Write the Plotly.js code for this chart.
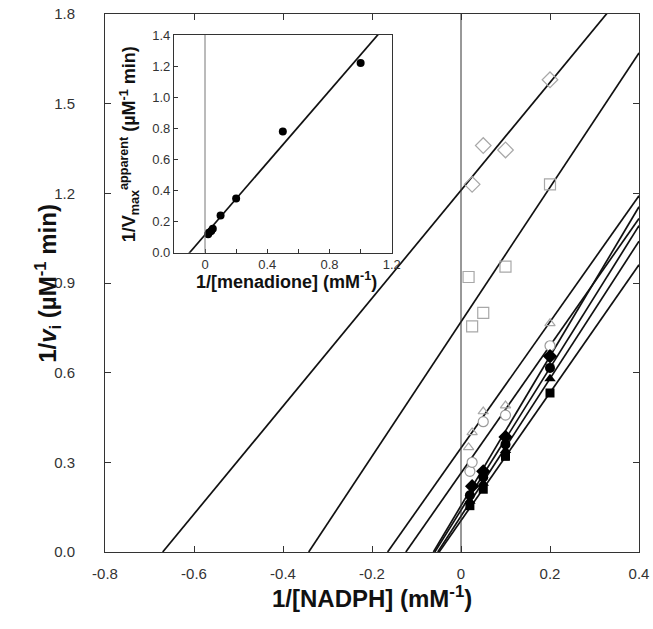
<!DOCTYPE html>
<html>
<head>
<meta charset="utf-8">
<script src="https://cdn.plot.ly/plotly-3.0.1.min.js"></script>
<style>html,body{margin:0;padding:0;background:#fff;}#chart{width:653px;height:629px;}</style>
</head>
<body>
<div id="chart"></div>
<script>
// ---- Main plot data: 1/[NADPH] (mM^-1) vs 1/v_i ----
const odX = [0.025, 0.05, 0.1, 0.2];
const odY = [1.23, 1.36, 1.345, 1.58];
const osX = [0.017, 0.025, 0.05, 0.1, 0.2];
const osY = [0.92, 0.755, 0.80, 0.955, 1.23];
const otX = [0.017, 0.025, 0.05, 0.1, 0.2];
const otY = [0.35, 0.40, 0.47, 0.49, 0.765];
const ocX = [0.02, 0.025, 0.05, 0.1, 0.2];
const ocY = [0.27, 0.30, 0.436, 0.458, 0.69];
const fdX = [0.025, 0.05, 0.1, 0.2];
const fdY = [0.22, 0.27, 0.385, 0.655];
const fcX = [0.02, 0.05, 0.1, 0.2];
const fcY = [0.19, 0.25, 0.36, 0.616];
const ftX = [0.02, 0.05, 0.1, 0.2];
const ftY = [0.17, 0.23, 0.34, 0.58];
const fsX = [0.02, 0.05, 0.1, 0.2];
const fsY = [0.155, 0.21, 0.32, 0.532];

// fitted lines (intercept, slope) for each series
const fitIntercepts = [1.21, 0.77, 0.348, 0.264, 0.155, 0.14, 0.12, 0.105];
const fitSlopes     = [1.805, 2.25, 2.11, 2.13, 2.5, 2.38, 2.3, 2.14];

// ---- Inset data: 1/[menadione] vs 1/Vmax apparent ----
const menX = [0.02, 0.025, 0.04, 0.05, 0.1, 0.2, 0.5, 1.0];
const vmaxY = [0.12, 0.13, 0.14, 0.155, 0.24, 0.35, 0.78, 1.22];
const insetIntercept = 0.116;
const insetSlope = 1.157;

const xTicks = [-0.8, -0.6, -0.4, -0.2, 0, 0.2, 0.4];
const xTickText = ['-0.8', '-0.6', '-0.4', '-0.2', '0', '0.2', '0.4'];
const yTicks = [0, 0.3, 0.6, 0.9, 1.2, 1.5, 1.8];
const yTickText = ['0.0', '0.3', '0.6', '0.9', '1.2', '1.5', '1.8'];
const insXTicks = [0, 0.2, 0.4, 0.6, 0.8, 1.0, 1.2];
const insXTickText = ['0', '', '0.4', '', '0.8', '', '1.2'];
const insYTicks = [0, 0.2, 0.4, 0.6, 0.8, 1.0, 1.2, 1.4];
const insYTickText = ['0.0', '0.2', '0.4', '0.6', '0.8', '1.0', '1.2', '1.4'];

const traces = [];
for (let i = 0; i < fitIntercepts.length; i++) {
  const b = fitIntercepts[i], m = fitSlopes[i];
  const x0 = -b / m, x1 = 0.4;
  traces.push({x: [x0, x1], y: [m * x0 + b, m * x1 + b], mode: 'lines',
    line: {color: '#111', width: 1.7}, hoverinfo: 'skip', showlegend: false});
}
const openGrey = '#a8a8a8';
function pts(x, y, symbol, size, fill, lineCol, lw) {
  return {x: x, y: y, mode: 'markers', showlegend: false, cliponaxis: false,
    marker: {symbol: symbol, size: size, color: fill, line: {color: lineCol, width: lw}}};
}
traces.push(pts(odX, odY, 'diamond-open', 12, openGrey, openGrey, 1.2));
traces.push(pts(osX, osY, 'square-open', 11, openGrey, openGrey, 1.2));
traces.push(pts(otX, otY, 'triangle-up-open', 9, openGrey, openGrey, 1.2));
traces.push(pts(ocX, ocY, 'circle', 10, '#fff', '#9a9a9a', 1.2));
traces.push(pts(fdX, fdY, 'diamond', 11, '#000', '#000', 0));
traces.push(pts(fcX, fcY, 'circle', 10, '#000', '#000', 0));
traces.push(pts(ftX, ftY, 'triangle-up', 10, '#000', '#000', 0));
traces.push(pts(fsX, fsY, 'square', 9, '#000', '#000', 0));

traces.push({x: [-0.2, 1.2], y: [insetIntercept - 0.2 * insetSlope, insetIntercept + 1.2 * insetSlope],
  xaxis: 'x2', yaxis: 'y2', mode: 'lines', line: {color: '#111', width: 1.7}, showlegend: false, hoverinfo: 'skip'});
traces.push({x: menX, y: vmaxY, xaxis: 'x2', yaxis: 'y2', mode: 'markers', showlegend: false,
  marker: {symbol: 'circle', size: 8, color: '#000'}});

const fam = 'Liberation Sans, Arial, sans-serif';
const tickFont = {family: fam, size: 15, color: '#333'};
const insTickFont = {family: fam, size: 13, color: '#333'};
const titleFont = {family: fam, size: 24, color: '#111'};
const insTitleFont = {family: fam, size: 18, color: '#111'};

const layout = {
  width: 653, height: 629,
  margin: {l: 105, r: 14, t: 14, b: 77},
  paper_bgcolor: '#fff', plot_bgcolor: '#fff',
  showlegend: false,
  xaxis: {range: [-0.8, 0.4], tickvals: xTicks, ticktext: xTickText, ticks: 'inside', ticklen: 6,
    tickcolor: '#333', showline: true, linecolor: '#333', linewidth: 1, mirror: 'ticks',
    showgrid: false, zeroline: false, tickfont: tickFont, ticklabelstandoff: 8},
  yaxis: {range: [0, 1.8], tickvals: yTicks, ticktext: yTickText, ticks: 'inside', ticklen: 6,
    tickcolor: '#333', showline: true, linecolor: '#333', linewidth: 1, mirror: 'ticks',
    showgrid: false, zeroline: false, tickfont: tickFont, ticklabelstandoff: 26},
  xaxis2: {domain: [0.129, 0.537], anchor: 'y2', range: [-0.2, 1.2],
    tickvals: insXTicks, ticktext: insXTickText,
    ticks: 'inside', ticklen: 4, tickcolor: '#333', showline: true, linecolor: '#333', linewidth: 1,
    mirror: true, showgrid: false, zeroline: false, tickfont: insTickFont},
  yaxis2: {domain: [0.556, 0.961], anchor: 'x2', range: [0, 1.4],
    tickvals: insYTicks, ticktext: insYTickText, ticks: 'inside', ticklen: 4, tickcolor: '#333',
    showline: true, linecolor: '#333', linewidth: 1, mirror: true, showgrid: false, zeroline: false,
    tickfont: insTickFont},
  annotations: [
    {text: '<b>1/[NADPH] (mM<sup>-1</sup>)</b>', xref: 'paper', yref: 'paper', x: 0.5, y: -0.084,
      xanchor: 'center', yanchor: 'middle', showarrow: false, font: titleFont},
    {text: '<b>1/<i>v</i><sub>i</sub> (µM<sup>-1</sup> min)</b>', xref: 'paper', yref: 'paper',
      x: -0.107, y: 0.5, xanchor: 'center', yanchor: 'middle', textangle: -90, showarrow: false, font: titleFont},
    {text: '<b>1/[menadione] (mM<sup>-1</sup>)</b>', xref: 'paper', yref: 'paper', x: 0.34, y: 0.505,
      xanchor: 'center', yanchor: 'middle', showarrow: false, font: insTitleFont},
    {text: '<b>1/V<sub>max</sub><sup>apparent</sup> (µM<sup>-1</sup> min)</b>', xref: 'paper', yref: 'paper',
      x: 0.045, y: 0.758, xanchor: 'center', yanchor: 'middle', textangle: -90, showarrow: false, font: insTitleFont}
  ],
  shapes: [
    {type: 'line', xref: 'x', yref: 'paper', x0: 0, x1: 0, y0: 0, y1: 1, line: {color: '#333', width: 1}},
    {type: 'line', xref: 'x2', yref: 'y2', x0: 0, x1: 0, y0: 0, y1: 1.4, line: {color: '#777', width: 1}}
  ]
};

Plotly.newPlot('chart', traces, layout, {displayModeBar: false, staticPlot: true});
</script>
</body>
</html>
